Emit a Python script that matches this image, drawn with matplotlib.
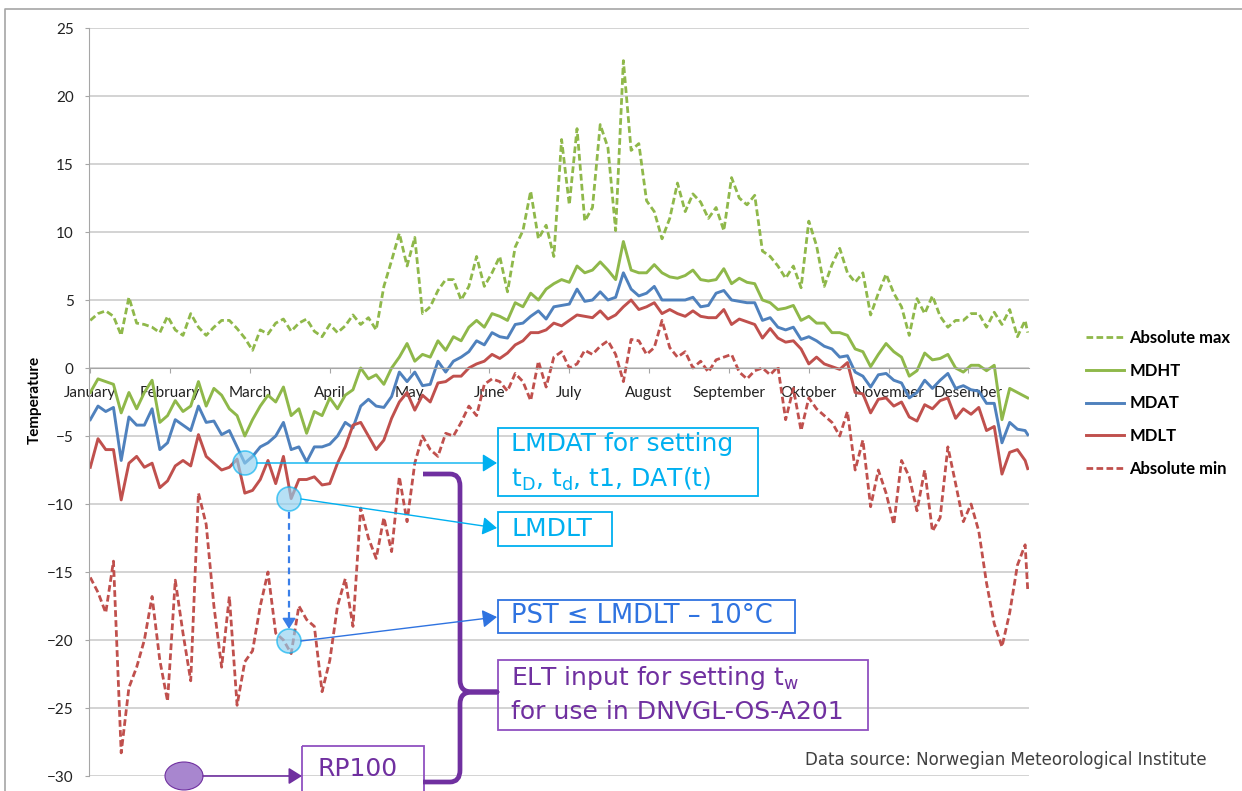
import numpy as np
import matplotlib
matplotlib.use("Agg")
import matplotlib.pyplot as plt
from matplotlib.patches import Rectangle, Circle, Ellipse, PathPatch
from matplotlib.path import Path

plt.rcParams['font.family'] = ['Lato', 'DejaVu Sans']

# -----------------------------
# Data (one value every 3 days + last day)
# -----------------------------
days = list(range(0, 364, 3)) + [364]

month_names = ['January', 'February', 'March', 'April', 'May', 'June', 'July',
               'August', 'September', 'Oktober', 'November', 'Desember']
month_ticks = [0, 31, 62, 93, 124, 155, 186, 217, 248, 279, 310, 341]

abs_max = [3.5, 4.0, 4.2, 3.8, 2.4, 5.2, 3.3, 3.2, 3.0, 2.6,
           3.8, 2.8, 2.4, 4.0, 3.0, 2.4, 3.0, 3.5, 3.5, 2.9,
           2.2, 1.3, 2.8, 2.5, 3.3, 3.6, 2.7, 3.3, 3.6, 2.7,
           2.3, 3.2, 2.6, 3.1, 3.9, 3.2, 3.7, 2.8, 6.0, 7.9,
           9.9, 7.5, 9.6, 4.0, 4.5, 5.7, 6.5, 6.5, 5.0, 6.0,
           8.2, 6.0, 7.0, 8.2, 5.6, 8.9, 10.1, 13.0, 9.5, 10.5,
           8.2, 16.8, 12.0, 17.6, 10.8, 11.8, 17.9, 16.2, 10.1, 22.6,
           16.0, 16.5, 12.3, 11.5, 9.5, 11.0, 13.6, 11.5, 12.8, 12.2,
           11.0, 11.8, 10.1, 14.0, 12.5, 12.0, 12.7, 8.6, 8.2, 7.5,
           6.6, 7.5, 5.9, 10.8, 9.0, 6.0, 7.6, 8.8, 7.0, 6.3,
           7.0, 3.9, 5.5, 6.9, 5.5, 4.5, 2.4, 5.1, 4.0, 5.3,
           3.8, 3.0, 3.5, 3.5, 4.0, 4.0, 3.0, 4.1, 3.2, 4.3,
           2.3, 3.5, 2.6]

mdht = [-1.8, -0.8, -1.0, -1.2, -3.3, -1.8, -3.0, -1.8, -0.9, -4.0,
        -3.5, -2.4, -3.2, -2.8, -1.0, -2.8, -1.5, -2.0, -3.0, -3.5,
        -5.0, -3.8, -2.8, -2.0, -2.5, -1.4, -3.5, -3.0, -4.8, -3.2,
        -3.5, -2.2, -3.0, -2.0, -1.6, 0.0, -0.8, -0.5, -1.2, 0.0,
        0.8, 1.8, 0.5, 1.0, 0.8, 2.0, 1.3, 2.3, 2.0, 3.0,
        3.5, 3.0, 4.0, 3.8, 3.5, 4.8, 4.5, 5.5, 5.0, 5.8,
        6.2, 6.5, 6.3, 7.5, 7.0, 7.2, 7.8, 7.2, 6.5, 9.3,
        7.2, 7.0, 7.0, 7.6, 7.0, 6.7, 6.6, 6.8, 7.2, 6.5,
        6.4, 6.5, 7.3, 6.2, 6.6, 6.3, 6.2, 5.0, 4.8, 4.3,
        4.4, 4.6, 3.5, 3.8, 3.3, 3.3, 2.6, 2.6, 2.4, 1.4,
        1.2, 0.1, 1.0, 1.8, 1.2, 0.8, -0.6, -0.2, 1.1, 0.6,
        0.7, 1.0, 0.0, -0.3, 0.2, 0.2, -0.2, 0.2, -3.8, -1.5,
        -1.8, -2.1, -2.2]

mdat = [-3.8, -2.8, -3.2, -2.9, -6.8, -3.6, -4.2, -4.2, -3.0, -6.0,
        -5.5, -3.8, -4.2, -4.6, -2.8, -4.0, -3.9, -4.9, -4.6, -5.8,
        -7.0, -6.5, -5.8, -5.5, -5.0, -4.0, -6.0, -5.8, -6.9, -5.8,
        -5.8, -5.6, -5.0, -4.0, -4.4, -2.8, -2.3, -2.8, -2.9, -2.1,
        -0.3, -1.0, -0.3, -1.3, -1.2, 0.5, -0.3, 0.5, 0.8, 1.2,
        2.0, 1.7, 2.6, 2.3, 2.2, 3.2, 3.3, 3.8, 4.2, 3.6,
        4.5, 4.6, 4.7, 5.8, 4.9, 5.0, 5.6, 5.0, 5.2, 7.0,
        5.8, 5.3, 5.5, 6.0, 5.0, 5.0, 5.0, 5.0, 5.2, 4.5,
        4.6, 5.5, 5.7, 5.0, 4.9, 4.8, 4.8, 3.5, 3.7, 3.0,
        2.8, 3.0, 2.1, 2.3, 2.0, 1.6, 1.4, 0.8, 0.9, -0.3,
        -0.6, -1.4, -0.5, -0.4, -0.9, -1.1, -2.2, -1.8, -0.9, -1.5,
        -0.9, -0.4, -1.5, -1.3, -1.6, -1.7, -2.6, -2.6, -5.5, -4.0,
        -4.5, -4.6, -4.9]

mdlt = [-7.3, -5.2, -6.0, -6.0, -9.7, -7.0, -6.5, -7.3, -7.0, -8.8,
        -8.3, -7.2, -6.8, -7.2, -4.9, -6.5, -7.0, -7.5, -7.3, -6.7,
        -9.2, -9.0, -8.2, -6.8, -8.5, -6.5, -9.6, -8.2, -8.2, -8.0,
        -8.6, -8.5, -7.0, -5.8, -4.2, -4.0, -5.0, -6.0, -5.3, -3.7,
        -2.5, -1.8, -3.1, -2.0, -2.5, -1.1, -1.0, -0.6, -0.6, 0.0,
        0.3, 0.5, 1.0, 0.7, 1.1, 1.7, 2.0, 2.6, 2.6, 2.8,
        3.3, 3.1, 3.5, 3.9, 3.8, 3.7, 4.2, 3.6, 3.9, 4.5,
        5.0, 4.3, 4.5, 4.8, 4.0, 4.3, 4.0, 3.8, 4.2, 3.8,
        3.7, 3.7, 4.3, 3.2, 3.6, 3.4, 3.2, 2.2, 2.9, 2.2,
        1.9, 2.0, 1.4, 0.3, 0.8, 0.3, 0.1, -0.1, 0.4, -1.8,
        -1.9, -3.3, -2.3, -2.2, -2.8, -2.5, -3.6, -3.9, -2.7, -3.0,
        -2.4, -2.2, -3.7, -3.0, -3.4, -2.9, -4.6, -4.3, -7.8, -6.2,
        -6.0, -6.8, -7.4]

abs_min = [-15.4, -16.5, -18.0, -14.2, -28.3, -23.5, -22.0, -20.0, -16.8, -21.5,
           -24.5, -15.6, -19.5, -23.0, -9.2, -11.5, -17.5, -22.0, -16.8, -24.8,
           -21.6, -20.8, -17.5, -15.0, -19.5, -20.0, -21.0, -17.5, -18.5, -19.0,
           -23.8, -21.5, -17.5, -15.5, -19.0, -10.3, -12.5, -14.0, -11.0, -13.5,
           -8.0, -11.3, -7.0, -5.0, -6.0, -6.5, -4.8, -5.0, -4.0, -2.8,
           -3.5, -1.2, -0.8, -1.0, -1.7, -0.4, -1.0, -2.4, 0.5, -1.4,
           0.8, 1.2, 0.0, 0.3, 1.3, 1.0, 1.6, 2.0, 1.0, -1.0,
           2.1, 2.0, 1.0, 1.5, 3.5, 1.5, 0.8, 1.2, 0.0, 0.5,
           -0.3, 0.6, 0.8, 1.0, -0.3, -0.8, -0.2, 0.0, -0.5, 0.1,
           -3.8, -1.5, -4.6, -2.2, -3.0, -3.5, -4.0, -5.0, -3.2, -7.5,
           -5.3, -10.2, -7.5, -9.2, -11.5, -6.8, -8.0, -10.5, -7.5, -12.0,
           -11.0, -5.8, -8.5, -11.3, -10.0, -12.0, -15.8, -18.8, -20.5, -18.0,
           -14.5, -13.0, -16.3]

GREEN = '#8fb84a'
BLUE = '#4f81bd'
RED = '#c0504d'
CYAN = '#00b0f0'
MBLUE = '#2f73e0'
PURPLE = '#7030a0'
GRID = '#c8c8c8'

W, H = 1242, 791
fig = plt.figure(figsize=(W / 100, H / 100), dpi=100)
ax = fig.add_axes([89 / W, 1 - 776 / H, 940 / W, 748 / H])

dash = (0, (2.4, 1.2))
ax.plot(days, abs_max, color=GREEN, lw=2.0, ls=dash, label='Absolute max')
ax.plot(days, mdht, color=GREEN, lw=2.1, label='MDHT')
ax.plot(days, mdat, color=BLUE, lw=2.1, label='MDAT')
ax.plot(days, mdlt, color=RED, lw=2.1, label='MDLT')
ax.plot(days, abs_min, color=RED, lw=2.0, ls=dash, label='Absolute min')

ax.set_xlim(-0.5, 364.5)
ax.set_ylim(-30, 25)
ax.set_yticks(range(-30, 26, 5))
ax.set_xticks(month_ticks)
ax.set_xticklabels(month_names)
ax.yaxis.grid(True, color=GRID, lw=1.1)
ax.set_axisbelow(True)
for s in ['top', 'right']:
    ax.spines[s].set_visible(False)
ax.spines['left'].set_color('#a6a6a6')
ax.spines['bottom'].set_color('#a6a6a6')
ax.spines['bottom'].set_position(('data', 0))
ax.tick_params(axis='y', length=3, color='#a6a6a6', labelsize=11, pad=8, labelcolor='#222222')
ax.tick_params(axis='x', length=3.6, color='#a6a6a6', labelsize=11, pad=9, labelcolor='#222222')

ax.legend(loc='upper left', bbox_to_anchor=(1086 / W, 1 - 330 / H), bbox_transform=fig.transFigure,
          frameon=False, borderpad=0, borderaxespad=0, handlelength=2.3, handletextpad=0.3,
          labelspacing=1.0, prop=dict(family='Lato', weight='bold', size=12))

fig.text(35 / W, 1 - 400 / H, 'Temperature', rotation=90, fontweight='bold', fontsize=11,
         ha='center', va='center')

# -----------------------------
# Annotation overlay in pixel coordinates
# -----------------------------
ov = fig.add_axes([0, 0, 1, 1], zorder=5)
ov.set_xlim(0, W)
ov.set_ylim(H, 0)
ov.axis('off')
ov.patch.set_alpha(0)

ov.plot([5, 5, W], [H, 9, 9], color='#a6a6a6', lw=1.2)

for cx, cy in [(245, 463), (289, 499), (289, 641)]:
    ov.add_patch(Circle((cx, cy), 12, facecolor='#8fd0f0', edgecolor=CYAN, alpha=0.65, lw=1.2))

def arrow(x0, y0, x1, y1, color, lw=1.0, scale=22):
    ov.annotate('', xy=(x1, y1), xytext=(x0, y0),
                arrowprops=dict(arrowstyle='-|>,head_length=0.4,head_width=0.25', color=color,
                                lw=lw, mutation_scale=scale, shrinkA=0, shrinkB=0))

arrow(257, 463, 497, 463, CYAN)
arrow(301, 499, 497, 528, CYAN)
arrow(301, 641, 497, 617, MBLUE)
ov.plot([289, 289], [512, 618], color='#3a7fe8', lw=1.6, ls=(0, (3, 2)))
arrow(289, 614, 289, 629, '#3a7fe8', lw=1.2, scale=16)

ov.add_patch(Ellipse((184, 776), 38, 28, facecolor='#a886cf', edgecolor=PURPLE, lw=0.8))
arrow(203, 776, 302, 776, PURPLE, lw=1.2, scale=20)

# boxes
def box(x0, y0, x1, y1, color, lw=1.3):
    ov.add_patch(Rectangle((x0, y0), x1 - x0, y1 - y0, fill=False, edgecolor=color, lw=lw))

box(498, 428, 758, 496, CYAN)
ov.text(511, 444, 'LMDAT for setting', color=CYAN, fontsize=18, family='DejaVu Sans', va='center')
ov.text(511, 479, r't$_{\mathregular{D}}$, t$_{\mathregular{d}}$, t1, DAT(t)', color=CYAN,
        fontsize=18, family='DejaVu Sans', va='center')
box(498, 512, 612, 546, CYAN)
ov.text(511, 529, 'LMDLT', color=CYAN, fontsize=18, family='DejaVu Sans', va='center')
box(498, 600, 795, 633, MBLUE)
ov.text(511, 616, 'PST ≤ LMDLT – 10°C', color=MBLUE, fontsize=18.5, family='DejaVu Sans', va='center')
box(498, 660, 868, 730, '#9050c0')
ov.text(511, 678, r'ELT input for setting t$_{\mathregular{w}}$', color=PURPLE, fontsize=18,
        family='DejaVu Sans', va='center')
ov.text(511, 712, 'for use in DNVGL-OS-A201', color=PURPLE, fontsize=18, family='DejaVu Sans', va='center')
box(302, 746, 424, 800, '#9050c0')
ov.text(318, 769, 'RP100', color=PURPLE, fontsize=18, family='DejaVu Sans', va='center')

# curly brace
verts = [(423, 474), (450, 474), (460, 474), (460, 486), (460, 680), (460, 692), (472, 692),
         (497, 692), (472, 692), (460, 692), (460, 704), (460, 770), (460, 782), (450, 782), (423, 782)]
codes = [Path.MOVETO, Path.LINETO, Path.CURVE3, Path.CURVE3, Path.LINETO, Path.CURVE3, Path.CURVE3,
         Path.LINETO, Path.LINETO, Path.CURVE3, Path.CURVE3, Path.LINETO, Path.CURVE3, Path.CURVE3,
         Path.LINETO]
ov.add_patch(PathPatch(Path(verts, codes), fill=False, edgecolor=PURPLE, lw=3.4, capstyle='butt',
                       joinstyle='round'))

ov.text(805, 760, 'Data source: Norwegian Meteorological Institute', color='#404040',
        fontsize=12, family='DejaVu Sans', va='center')

fig.savefig('out.png', dpi=100)
